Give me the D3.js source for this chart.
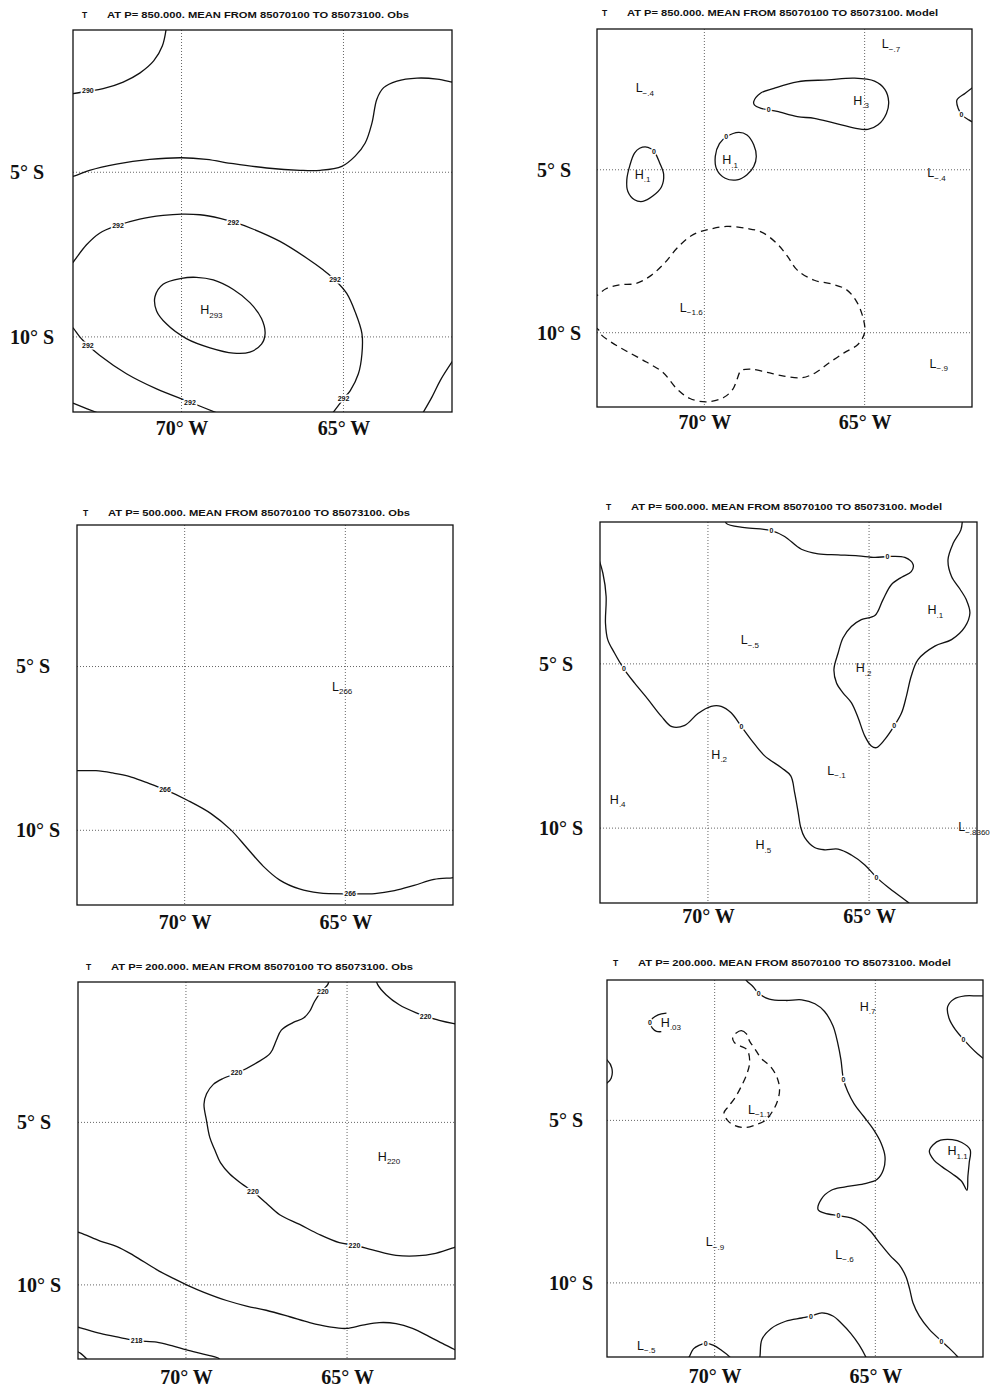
<!DOCTYPE html>
<html>
<head>
<meta charset="utf-8">
<script src="https://cdn.jsdelivr.net/npm/d3@7/dist/d3.min.js"></script>
<style>
body { margin: 0; background: #fff; }
</style>
</head>
<body>
<svg id="fig" width="997" height="1389"></svg>
<script>

// map window (degrees, south and west negative)
var lonDomain = [-73.35, -61.65];
var latDomain = [-0.68, -12.28];
var lonTicks = [-70, -65];
var latTicks = [-5, -10];
var lonTickLabels = ["70\u00b0 W", "65\u00b0 W"];
var latTickLabels = ["5\u00b0 S", "10\u00b0 S"];
var period = "MEAN FROM 85070100 TO 85073100.";

// ---- 850 hPa, Obs ----
var obs850_290 = [[-73.45,-2.62],[-73.35,-2.61],[-72.89,-2.54],[-72.42,-2.46],[-71.80,-2.26],[-71.29,-1.99],[-70.86,-1.62],[-70.59,-1.16],[-70.46,-0.55]];
var obs850_291 = [[-73.45,-5.13],[-73.33,-5.12],[-72.84,-4.94],[-72.01,-4.75],[-70.98,-4.61],[-70.00,-4.56],[-69.23,-4.61],[-68.40,-4.74],[-67.37,-4.87],[-66.34,-4.94],[-65.72,-4.94],[-65.05,-4.82],[-64.64,-4.51],[-64.33,-4.11],[-64.12,-3.50],[-63.97,-2.78],[-63.76,-2.43],[-63.35,-2.23],[-62.73,-2.14],[-62.11,-2.17],[-61.65,-2.26],[-61.55,-2.28]];
var obs850_292a = [[-73.45,-7.85],[-73.33,-7.71],[-72.94,-7.21],[-72.53,-6.85],[-71.96,-6.61],[-71.29,-6.42],[-70.57,-6.31],[-70.00,-6.27],[-69.43,-6.29],[-68.81,-6.40],[-68.40,-6.51],[-67.78,-6.73],[-66.96,-7.10],[-66.13,-7.61],[-65.62,-7.97],[-65.26,-8.27],[-64.90,-8.68],[-64.64,-9.24],[-64.43,-9.90],[-64.43,-10.51],[-64.54,-11.12],[-64.79,-11.63],[-65.00,-11.88],[-65.40,-12.40]];
var obs850_292b = [[-73.45,-9.62],[-73.33,-9.75],[-73.14,-10.00],[-72.89,-10.25],[-72.53,-10.56],[-71.70,-11.12],[-70.77,-11.58],[-69.74,-11.98],[-68.80,-12.35]];
var obs850_293 = [[-70.00,-8.22],[-69.54,-8.19],[-69.02,-8.27],[-68.40,-8.56],[-67.89,-8.96],[-67.53,-9.44],[-67.42,-9.90],[-67.53,-10.22],[-67.89,-10.46],[-68.40,-10.49],[-69.12,-10.33],[-69.85,-10.05],[-70.46,-9.61],[-70.77,-9.21],[-70.82,-8.78],[-70.57,-8.40]];
var obs850_sw = [[-73.50,-11.95],[-73.33,-12.02],[-72.45,-12.36]];
var obs850_se = [[-61.55,-10.62],[-61.65,-10.76],[-62.01,-11.32],[-62.27,-11.83],[-62.58,-12.36]];
var obs850_values = [[-72.89,-2.53,"290"],[-71.96,-6.61,"292"],[-68.40,-6.52,"292"],[-65.26,-8.27,"292"],[-65.00,-11.88,"292"],[-72.89,-10.27,"292"],[-69.74,-11.98,"292"]];
var obs850_extrema = [[-69.30,-9.19,"H","293"]];

// ---- 850 hPa, Model ----
var mod850_h3 = [[-68.46,-2.91],[-68.25,-2.65],[-67.83,-2.50],[-67.10,-2.30],[-66.15,-2.24],[-65.31,-2.19],[-64.69,-2.28],[-64.37,-2.53],[-64.25,-2.91],[-64.32,-3.27],[-64.58,-3.62],[-64.90,-3.76],[-65.31,-3.72],[-65.94,-3.57],[-66.57,-3.42],[-67.10,-3.37],[-67.73,-3.21],[-67.99,-3.16],[-68.25,-3.11],[-68.44,-3.01]];
var mod850_east = [[-61.50,-2.38],[-61.57,-2.43],[-61.86,-2.65],[-62.12,-2.86],[-62.08,-3.12],[-61.95,-3.33],[-61.75,-3.47],[-61.50,-3.60]];
var mod850_h1a = [[-72.02,-4.34],[-71.76,-4.31],[-71.57,-4.44],[-71.39,-4.80],[-71.27,-5.15],[-71.34,-5.53],[-71.60,-5.80],[-71.92,-5.97],[-72.18,-5.92],[-72.39,-5.66],[-72.42,-5.31],[-72.32,-4.85],[-72.18,-4.49]];
var mod850_h1b = [[-69.30,-3.98],[-68.93,-3.85],[-68.67,-3.93],[-68.46,-4.23],[-68.38,-4.59],[-68.46,-4.90],[-68.67,-5.15],[-68.98,-5.31],[-69.35,-5.26],[-69.61,-5.00],[-69.66,-4.59],[-69.53,-4.20]];
var mod850_lm16 = [[-73.50,-8.95],[-73.31,-8.83],[-73.07,-8.65],[-72.65,-8.53],[-72.13,-8.49],[-71.66,-8.24],[-71.24,-7.86],[-70.82,-7.37],[-70.35,-6.99],[-69.82,-6.82],[-69.30,-6.74],[-68.67,-6.80],[-68.20,-6.92],[-67.73,-7.27],[-67.41,-7.65],[-67.10,-8.08],[-66.57,-8.39],[-66.05,-8.50],[-65.58,-8.67],[-65.26,-9.03],[-65.05,-9.54],[-65.00,-10.00],[-65.21,-10.36],[-65.63,-10.61],[-66.10,-10.92],[-66.52,-11.22],[-66.94,-11.38],[-67.52,-11.33],[-68.04,-11.22],[-68.56,-11.12],[-68.86,-11.17],[-68.98,-11.43],[-69.11,-11.73],[-69.40,-11.99],[-69.93,-12.12],[-70.45,-12.02],[-70.87,-11.71],[-71.29,-11.22],[-71.81,-10.90],[-72.44,-10.56],[-72.91,-10.29],[-73.23,-10.05],[-73.31,-9.90],[-73.50,-9.80]];
var mod850_values = [[-67.99,-3.16,"0"],[-61.98,-3.30,"0"],[-71.57,-4.44,"0"],[-69.32,-3.98,"0"]];
var mod850_extrema = [[-72.02,-2.50,"L","\u2212.4"],[-64.34,-1.15,"L","\u2212.7"],[-65.23,-2.88,"H",".3"],[-72.05,-5.15,"H",".1"],[-69.32,-4.71,"H",".1"],[-62.92,-5.10,"L","\u2212.4"],[-70.64,-9.23,"L","\u22121.6"],[-62.85,-10.95,"L","\u2212.9"]];

// ---- 500 hPa, Obs ----
var obs500_266 = [[-73.45,-8.18],[-73.24,-8.18],[-72.76,-8.18],[-72.24,-8.25],[-71.73,-8.35],[-71.22,-8.53],[-70.61,-8.76],[-69.90,-9.09],[-69.18,-9.49],[-68.57,-9.98],[-68.06,-10.54],[-67.55,-11.10],[-67.04,-11.52],[-66.43,-11.79],[-65.82,-11.91],[-64.90,-11.94],[-64.08,-11.93],[-63.47,-11.84],[-62.86,-11.68],[-62.24,-11.50],[-61.68,-11.45],[-61.55,-11.43]];
var obs500_values = [[-70.61,-8.76,"266"],[-64.85,-11.94,"266"]];
var obs500_extrema = [[-65.29,-5.61,"L","266"]];

// ---- 500 hPa, Model ----
var mod500_north = [[-69.45,-0.55],[-69.43,-0.72],[-68.86,-0.85],[-68.03,-0.94],[-67.62,-1.12],[-67.10,-1.51],[-66.58,-1.65],[-65.96,-1.68],[-65.34,-1.71],[-64.82,-1.76],[-64.41,-1.73],[-63.89,-1.76],[-63.63,-1.98],[-63.69,-2.19],[-63.99,-2.36],[-64.31,-2.59],[-64.57,-3.05],[-64.82,-3.53],[-65.24,-3.65],[-65.55,-3.86],[-65.81,-4.21],[-65.96,-4.67],[-66.09,-5.17],[-66.01,-5.58],[-65.81,-5.88],[-65.55,-6.18],[-65.34,-6.64],[-65.13,-7.20],[-64.93,-7.50],[-64.77,-7.55],[-64.51,-7.30],[-64.22,-6.89],[-63.99,-6.49],[-63.84,-5.98],[-63.69,-5.37],[-63.48,-4.87],[-62.96,-4.46],[-62.44,-4.26],[-62.03,-3.88],[-61.87,-3.45],[-61.98,-3.05],[-62.18,-2.72],[-62.44,-2.34],[-62.55,-1.83],[-62.39,-1.33],[-62.15,-0.92],[-62.10,-0.55]];
var mod500_diag = [[-73.50,-1.55],[-73.42,-1.73],[-73.26,-2.24],[-73.16,-2.95],[-73.18,-3.76],[-73.11,-4.26],[-72.90,-4.67],[-72.61,-5.15],[-72.28,-5.58],[-71.86,-6.08],[-71.45,-6.59],[-71.12,-6.91],[-70.72,-6.87],[-70.31,-6.51],[-69.90,-6.29],[-69.59,-6.29],[-69.28,-6.49],[-68.96,-6.91],[-68.65,-7.32],[-68.24,-7.80],[-67.72,-8.16],[-67.43,-8.41],[-67.31,-8.92],[-67.20,-9.52],[-67.12,-9.98],[-67.00,-10.28],[-66.69,-10.59],[-66.38,-10.66],[-65.96,-10.64],[-65.55,-10.82],[-65.13,-11.12],[-64.77,-11.50],[-64.41,-11.80],[-63.79,-12.26],[-63.70,-12.35]];
var mod500_values = [[-68.03,-0.94,"0"],[-64.43,-1.73,"0"],[-64.22,-6.89,"0"],[-72.61,-5.15,"0"],[-68.96,-6.91,"0"],[-64.77,-11.50,"0"]];
var mod500_extrema = [[-68.86,-4.28,"L","\u2212.5"],[-63.06,-3.37,"H",".1"],[-65.29,-5.14,"H",".2"],[-69.77,-7.77,"H",".2"],[-66.17,-8.26,"L","\u2212.1"],[-72.92,-9.14,"H",".4"],[-68.40,-10.52,"H",".5"],[-62.11,-9.98,"L","\u2212.8360"]];

// ---- 200 hPa, Obs ----
var obs200_220a = [[-65.55,-0.55],[-65.60,-0.76],[-65.77,-0.94],[-66.01,-1.28],[-66.16,-1.58],[-66.35,-1.79],[-66.68,-1.93],[-67.04,-2.16],[-67.20,-2.49],[-67.38,-2.87],[-67.81,-3.17],[-68.41,-3.48],[-68.85,-3.65],[-69.15,-3.83],[-69.36,-4.12],[-69.44,-4.44],[-69.36,-4.95],[-69.26,-5.46],[-69.10,-5.86],[-68.93,-6.24],[-68.64,-6.59],[-68.28,-6.88],[-67.92,-7.13],[-67.51,-7.48],[-67.09,-7.84],[-66.47,-8.14],[-65.86,-8.45],[-65.24,-8.70],[-64.77,-8.78],[-64.21,-8.92],[-63.48,-9.09],[-62.87,-9.11],[-62.25,-9.03],[-61.68,-8.85],[-61.55,-8.80]];
var obs200_220b = [[-64.10,-0.60],[-64.05,-0.76],[-63.79,-1.07],[-63.38,-1.38],[-62.87,-1.62],[-62.56,-1.73],[-62.14,-1.86],[-61.68,-1.96],[-61.55,-1.98]];
var obs200_219 = [[-73.45,-8.36],[-73.28,-8.40],[-72.66,-8.65],[-72.14,-8.82],[-71.63,-9.09],[-70.91,-9.53],[-70.39,-9.80],[-69.93,-10.02],[-69.46,-10.22],[-68.74,-10.48],[-68.12,-10.65],[-67.51,-10.78],[-66.78,-10.98],[-66.16,-11.16],[-65.55,-11.29],[-65.03,-11.34],[-64.52,-11.24],[-64.00,-11.16],[-63.48,-11.19],[-62.97,-11.34],[-62.45,-11.59],[-62.04,-11.80],[-61.68,-11.98],[-61.55,-12.05]];
var obs200_218 = [[-73.45,-11.28],[-73.28,-11.32],[-72.66,-11.49],[-72.04,-11.62],[-71.53,-11.72],[-70.91,-11.76],[-70.44,-11.87],[-69.98,-12.00],[-69.46,-12.13],[-69.00,-12.25],[-68.90,-12.36]];
var obs200_sw = [[-73.50,-12.00],[-73.28,-12.10],[-73.00,-12.36]];
var obs200_values = [[-65.75,-0.97,"220"],[-68.43,-3.48,"220"],[-67.92,-7.13,"220"],[-64.77,-8.78,"220"],[-62.56,-1.73,"220"],[-71.53,-11.72,"218"]];
var obs200_extrema = [[-63.92,-6.06,"H","220"]];

// ---- 200 hPa, Model ----
var mod200_main = [[-69.10,-0.55],[-69.01,-0.70],[-68.81,-0.88],[-68.63,-1.09],[-68.30,-1.27],[-67.79,-1.31],[-67.29,-1.29],[-66.88,-1.41],[-66.58,-1.65],[-66.32,-2.09],[-66.17,-2.62],[-66.07,-3.14],[-65.99,-3.75],[-65.86,-4.11],[-65.66,-4.49],[-65.36,-4.88],[-65.05,-5.29],[-64.82,-5.70],[-64.70,-6.11],[-64.75,-6.52],[-64.95,-6.82],[-65.36,-6.95],[-65.97,-7.05],[-66.37,-7.15],[-66.68,-7.42],[-66.78,-7.75],[-66.58,-7.85],[-66.15,-7.93],[-65.76,-8.00],[-65.46,-8.14],[-65.15,-8.41],[-64.85,-8.79],[-64.54,-9.16],[-64.26,-9.44],[-64.05,-9.80],[-63.93,-10.20],[-63.83,-10.61],[-63.63,-11.02],[-63.32,-11.43],[-62.94,-11.79],[-62.71,-12.00],[-62.46,-12.25],[-62.38,-12.36]];
var mod200_ne = [[-61.50,-1.17],[-61.82,-1.17],[-62.21,-1.17],[-62.56,-1.27],[-62.75,-1.50],[-62.71,-1.85],[-62.51,-2.21],[-62.26,-2.50],[-62.05,-2.73],[-61.82,-2.95],[-61.50,-3.20]];
var mod200_west = [[-73.60,-3.00],[-73.35,-3.14],[-73.20,-3.39],[-73.22,-3.70],[-73.35,-3.85],[-73.60,-3.95]];
var mod200_h03 = [[-71.50,-1.70],[-71.76,-1.75],[-71.94,-1.87],[-72.01,-1.99],[-71.94,-2.16],[-71.81,-2.26],[-71.66,-2.27]];
var mod200_lm11 = [[-69.34,-2.32],[-69.17,-2.24],[-69.01,-2.34],[-68.91,-2.57],[-68.76,-2.78],[-68.56,-3.08],[-68.25,-3.36],[-68.05,-3.70],[-67.98,-4.06],[-68.05,-4.42],[-68.20,-4.72],[-68.40,-4.98],[-68.71,-5.13],[-69.07,-5.22],[-69.37,-5.16],[-69.60,-5.00],[-69.71,-4.77],[-69.57,-4.57],[-69.37,-4.31],[-69.17,-3.95],[-68.99,-3.55],[-68.91,-3.19],[-68.99,-2.83],[-69.22,-2.70],[-69.39,-2.60],[-69.44,-2.44]];
var mod200_h11 = [[-63.32,-5.95],[-63.20,-5.75],[-62.97,-5.61],[-62.61,-5.59],[-62.31,-5.68],[-62.05,-5.90],[-62.08,-6.31],[-62.12,-6.72],[-62.15,-7.15],[-62.31,-6.88],[-62.61,-6.64],[-62.92,-6.43],[-63.17,-6.23]];
var mod200_southA = [[-68.62,-12.36],[-68.59,-12.25],[-68.53,-11.74],[-68.25,-11.41],[-67.79,-11.18],[-67.29,-11.08],[-67.00,-11.02],[-66.66,-10.92],[-66.32,-11.02],[-66.05,-11.25],[-65.76,-11.56],[-65.51,-11.90],[-65.30,-12.27],[-65.26,-12.36]];
var mod200_southB = [[-70.84,-12.36],[-70.79,-12.27],[-70.66,-12.03],[-70.49,-11.92],[-70.28,-11.86],[-70.03,-11.92],[-69.78,-12.08],[-69.54,-12.27],[-69.48,-12.36]];
var mod200_values = [[-68.63,-1.09,"0"],[-65.99,-3.75,"0"],[-66.15,-7.93,"0"],[-62.94,-11.79,"0"],[-62.26,-2.50,"0"],[-72.01,-1.99,"0"],[-67.00,-11.02,"0"],[-70.28,-11.86,"0"]];
var mod200_extrema = [[-71.55,-1.99,"H",".03"],[-65.36,-1.50,"H",".7"],[-68.84,-4.67,"L","\u22121.1"],[-62.63,-5.95,"H","1.1"],[-70.15,-8.75,"L","\u2212.9"],[-66.12,-9.13,"L","\u2212.6"],[-72.29,-11.93,"L","\u2212.5"]];

// page layout: frame = [left, top, right, bottom] in px
var panels = [
    { id: "p1", frame: [73, 30, 452, 412], title: [82, 18, 302], level: "850.000", src: "Obs", pad: 9, ylab: 63,
      lines: [obs850_290, obs850_291, obs850_292a, obs850_292b, obs850_sw, obs850_se], closed: [obs850_293], dashed: [], dashedClosed: [],
      values: obs850_values, extrema: obs850_extrema },
    { id: "p2", frame: [597, 29, 972, 407], title: [602, 16, 311], level: "850.000", src: "Model", pad: 8, ylab: 60,
      lines: [mod850_east], closed: [mod850_h3, mod850_h1a, mod850_h1b], dashed: [mod850_lm16], dashedClosed: [],
      values: mod850_values, extrema: mod850_extrema },
    { id: "p3", frame: [77, 525, 453, 905], title: [83, 516, 302], level: "500.000", src: "Obs", pad: 10, ylab: 61,
      lines: [obs500_266], closed: [], dashed: [], dashedClosed: [],
      values: obs500_values, extrema: obs500_extrema },
    { id: "p4", frame: [600, 522, 977, 903], title: [606, 510, 311], level: "500.000", src: "Model", pad: 6, ylab: 61,
      lines: [mod500_north, mod500_diag], closed: [], dashed: [], dashedClosed: [],
      values: mod500_values, extrema: mod500_extrema },
    { id: "p5", frame: [78, 982, 455, 1359], title: [86, 970, 302], level: "200.000", src: "Obs", pad: 11, ylab: 61,
      lines: [obs200_220a, obs200_220b, obs200_219, obs200_218, obs200_sw], closed: [], dashed: [], dashedClosed: [],
      values: obs200_values, extrema: obs200_extrema },
    { id: "p6", frame: [607, 980, 983, 1357], title: [613, 966, 313], level: "200.000", src: "Model", pad: 12, ylab: 58,
      lines: [mod200_main, mod200_ne, mod200_west, mod200_h03, mod200_southA, mod200_southB], closed: [mod200_h11], dashed: [], dashedClosed: [mod200_lm11],
      values: mod200_values, extrema: mod200_extrema }
];

var svg = d3.select("#fig");

function drawPanel(p) {

    var f = p.frame;
    var x = d3.scaleLinear().domain(lonDomain).range([f[0], f[2]]);
    var y = d3.scaleLinear().domain(latDomain).range([f[1], f[3]]);

    var g = svg.append("g").attr("class", p.id);

    g.append("clipPath")
        .attr("id", "clip-" + p.id)
        .append("rect")
        .attr("x", f[0]).attr("y", f[1])
        .attr("width", f[2] - f[0]).attr("height", f[3] - f[1]);

    // dotted lat/lon grid
    g.selectAll(".vgrid").data(lonTicks).enter().append("line")
        .attr("x1", function (d) { return x(d); })
        .attr("x2", function (d) { return x(d); })
        .attr("y1", f[1]).attr("y2", f[3])
        .style("stroke", "#555").style("stroke-width", 0.9)
        .style("stroke-dasharray", "1,2");
    g.selectAll(".hgrid").data(latTicks).enter().append("line")
        .attr("y1", function (d) { return y(d); })
        .attr("y2", function (d) { return y(d); })
        .attr("x1", f[0]).attr("x2", f[2])
        .style("stroke", "#555").style("stroke-width", 0.9)
        .style("stroke-dasharray", "1,2");

    // contours
    var open = d3.line()
        .x(function (d) { return x(d[0]); })
        .y(function (d) { return y(d[1]); })
        .curve(d3.curveCatmullRom.alpha(0.5));
    var shut = d3.line()
        .x(function (d) { return x(d[0]); })
        .y(function (d) { return y(d[1]); })
        .curve(d3.curveCatmullRomClosed.alpha(0.5));

    var cg = g.append("g").attr("clip-path", "url(#clip-" + p.id + ")")
        .style("fill", "none").style("stroke", "#111").style("stroke-width", 1.3);

    p.lines.forEach(function (c) { cg.append("path").datum(c).attr("d", open); });
    p.closed.forEach(function (c) { cg.append("path").datum(c).attr("d", shut); });
    p.dashed.forEach(function (c) {
        cg.append("path").datum(c).attr("d", open).style("stroke-dasharray", "7,5");
    });
    p.dashedClosed.forEach(function (c) {
        cg.append("path").datum(c).attr("d", shut).style("stroke-dasharray", "7,5");
    });

    // frame
    g.append("rect")
        .attr("x", f[0]).attr("y", f[1])
        .attr("width", f[2] - f[0]).attr("height", f[3] - f[1])
        .style("fill", "none").style("stroke", "#111").style("stroke-width", 1.3);

    // contour value labels (break the line)
    g.selectAll(".val").data(p.values).enter().append("text")
        .attr("x", function (d) { return x(d[0]); })
        .attr("y", function (d) { return y(d[1]); })
        .attr("dy", "0.35em")
        .attr("text-anchor", "middle")
        .style("font", "bold 7px 'Liberation Sans', sans-serif")
        .style("fill", "#111")
        .style("stroke", "#fff").style("stroke-width", 3)
        .style("paint-order", "stroke")
        .text(function (d) { return d[2]; });

    // H / L extrema
    var ex = g.selectAll(".ext").data(p.extrema).enter().append("text")
        .attr("x", function (d) { return x(d[0]) - 4; })
        .attr("y", function (d) { return y(d[1]) + 4; })
        .style("font-family", "'Liberation Sans', sans-serif")
        .style("fill", "#111");
    ex.append("tspan")
        .style("font-size", "12.5px")
        .text(function (d) { return d[2]; });
    ex.append("tspan")
        .attr("dy", 3.5)
        .style("font-size", "8px")
        .text(function (d) { return d[3]; });

    // axes
    var xaxis = g.append("g")
        .attr("transform", "translate(0," + f[3] + ")")
        .call(d3.axisBottom(x).tickValues(lonTicks).tickSize(0).tickPadding(p.pad)
            .tickFormat(function (d, i) { return lonTickLabels[i]; }));
    xaxis.select(".domain").remove();
    xaxis.selectAll("text")
        .style("font", "bold 20px 'Liberation Serif', serif")
        .style("fill", "#111");

    var yaxis = g.append("g")
        .attr("transform", "translate(" + f[0] + ",0)")
        .call(d3.axisLeft(y).tickValues(latTicks).tickSize(0)
            .tickFormat(function (d, i) { return latTickLabels[i]; }));
    yaxis.select(".domain").remove();
    yaxis.selectAll("text")
        .attr("x", -p.ylab)
        .attr("text-anchor", "start")
        .style("font", "bold 20px 'Liberation Serif', serif")
        .style("fill", "#111");

    // title
    var t = p.title;
    g.append("text")
        .attr("x", t[0]).attr("y", t[1])
        .style("font", "bold 8.5px 'Liberation Sans', sans-serif")
        .style("fill", "#111")
        .text("T");
    g.append("text")
        .attr("x", t[0] + 25).attr("y", t[1])
        .attr("textLength", t[2])
        .attr("lengthAdjust", "spacingAndGlyphs")
        .style("font", "bold 8.5px 'Liberation Sans', sans-serif")
        .style("fill", "#111")
        .text("AT P= " + p.level + ". " + period + " " + p.src);
}

panels.forEach(drawPanel);

</script>
</body>
</html>
